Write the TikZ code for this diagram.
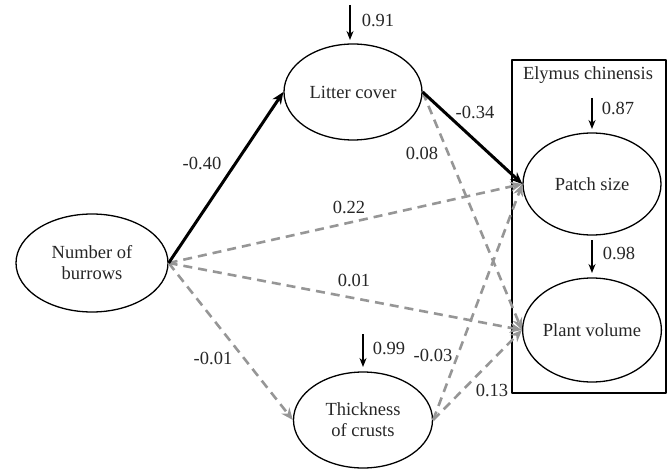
\documentclass[tikz,border=0pt]{standalone}
\usepackage{fontspec}
\setmainfont{Liberation Serif}
\usetikzlibrary{shapes.geometric,arrows.meta}
\definecolor{pathgray}{RGB}{150,150,150}
\begin{document}
\begin{tikzpicture}[x=1pt, y=-1pt, font=\fontsize{18.5}{21}\selectfont, line join=round, >={Stealth[length=12pt,width=10pt]},
	var/.style={ellipse, draw, line width=1.3pt, inner sep=0pt, align=center, text=black!85},
	coef/.style={text=black!85},
	sig/.style={->, line width=3pt},
	nsig/.style={->, pathgray, line width=2.6pt, dash pattern=on 9pt off 6pt},
	err/.style={->, line width=1.4pt, >={Stealth[length=9pt,width=7pt]}}]
		\useasboundingbox (0,0) rectangle (668,470);
		% species box
		\draw[line width=1.7pt] (512,60) rectangle (666,393);
		\node[coef] (species) at (588,75) {Elymus chinensis};
		% variables
		\node[var, minimum width=152, minimum height=98] (burrows) at (92,263) {Number of\\burrows};
		\node[var, minimum width=138, minimum height=96] (litter) at (353,92) {Litter cover};
		\node[var, minimum width=139, minimum height=96] (crusts) at (363,420) {Thickness\\of crusts};
		\node[var, minimum width=138, minimum height=102] (patch) at (592,184) {Patch size};
		\node[var, minimum width=138, minimum height=104] (plant) at (592,330) {Plant volume};
		% error terms
		\coordinate (elitter) at (350,5);
		\coordinate (tlitter) at (350,40);
		\coordinate (epatch) at (592,98);
		\coordinate (tpatch) at (592,129);
		\coordinate (eplant) at (592,240);
		\coordinate (tplant) at (592,273);
		\coordinate (ecrusts) at (363,334);
		\coordinate (tcrusts) at (363,367);
		\draw[err] (elitter) -- (tlitter);
		\draw[err] (epatch) -- (tpatch);
		\draw[err] (eplant) -- (tplant);
		\draw[err] (ecrusts) -- (tcrusts);
		\node[coef] (rlitter) at (378,20) {0.91};
		\node[coef] (rpatch) at (618,108) {0.87};
		\node[coef] (rplant) at (619,253) {0.98};
		\node[coef] (rcrusts) at (389,348) {0.99};
		% paths
		\draw[nsig] (burrows.east) -- (patch.west);
		\draw[nsig] (burrows.east) -- (plant.west);
		\draw[nsig] (burrows.east) -- (crusts.west);
		\draw[nsig] (litter.east) -- (plant.west);
		\draw[nsig] (crusts.east) -- (patch.west);
		\draw[nsig] (crusts.east) -- (plant.west);
		\draw[sig] (burrows.east) -- (litter.west);
		\draw[sig] (litter.east) -- (patch.west);
		\node[coef] (c1) at (202,163) {-0.40};
		\node[coef] (c2) at (475,112) {-0.34};
		\node[coef] (c3) at (422,153) {0.08};
		\node[coef] (c4) at (349,207) {0.22};
		\node[coef] (c5) at (354,280) {0.01};
		\node[coef] (c6) at (213,358) {-0.01};
		\node[coef] (c7) at (433,355) {-0.03};
		\node[coef] (c8) at (492,390) {0.13};
	\end{tikzpicture}
\end{document}
